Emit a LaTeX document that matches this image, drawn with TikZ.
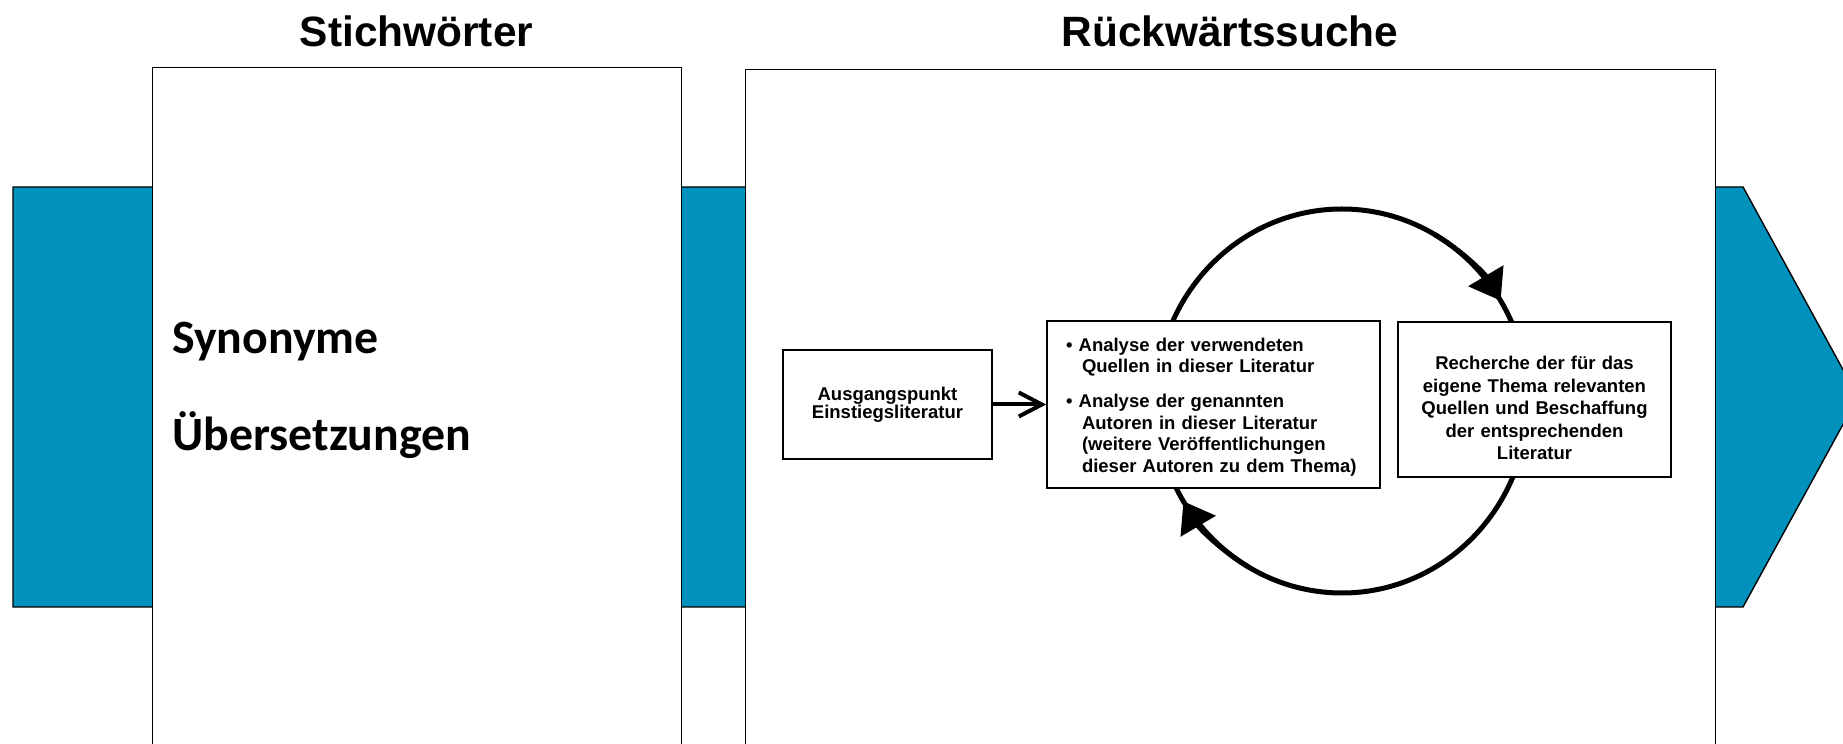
\documentclass[tikz,border=0pt]{standalone}
\usepackage{fontspec}
\setmainfont{Liberation Sans}
\newfontfamily\calib{Carlito}
\usetikzlibrary{arrows.meta}
\definecolor{bandblue}{RGB}{0,146,189}
\begin{document}
\begin{tikzpicture}[x=0.5pt,y=0.5pt,
  panel/.style={draw=black, line width=0.7pt, fill=white, inner sep=0pt},
  box/.style={draw=black, line width=0.85pt, fill=white, inner sep=0pt},
  boxfont/.style={font=\fontsize{9.25}{#1}\selectfont\bfseries},
  title/.style={font=\fontsize{21.2}{25}\selectfont\bfseries, inner sep=0pt},
  bigtext/.style={font=\calib\fontsize{23.9}{28}\selectfont\bfseries, inner sep=0pt},
  loop/.style={line width=2.5pt},
  looptip/.style={line width=2.5pt, -{Triangle[length=14.5pt,width=20pt]}},
]
\clip (0,0) rectangle (1843,744);
\fill[white] (0,0) rectangle (1843,744);
% blue band arrow
\draw[fill=bandblue, line width=0.7pt] (13,557) -- (1743,557) -- (1858,347) -- (1743,137) -- (13,137) -- cycle;
% panels
\node[panel, anchor=north west, minimum width=264.5pt, minimum height=360pt] (p1) at (152,677) {};
\node[panel, anchor=north west, minimum width=485pt, minimum height=360pt] (p2) at (745,675) {};
% titles
\node[title, anchor=base] (t1) at (416.5,697) {Stichwörter};
\node[title, anchor=base] (t2) at (1230,697) {Rückwärtssuche};
% left panel texts
\node[bigtext, anchor=base west] (syn) at (172,390) {Synonyme};
\node[bigtext, anchor=base west] (ueb) at (172,293) {Übersetzungen};
% cycle
\coordinate (cc) at (1342,343);
\draw[loop] (cc) ellipse [x radius=186, y radius=192];
\draw[looptip] ([shift={(60:186 and 192)}]cc) arc[start angle=60, end angle=31.5, x radius=186, y radius=192];
\draw[looptip] ([shift={(240:186 and 192)}]cc) arc[start angle=240, end angle=211.5, x radius=186, y radius=192];
% boxes
\node[box, boxfont=9.15pt, minimum width=104.5pt, minimum height=54.5pt, align=center] (start) at (887.5,339.5) {Ausgangspunkt\\Einstiegsliteratur};
\node[box, boxfont=10.75pt, minimum width=166.5pt, minimum height=83.5pt, inner xsep=9.5pt, text width=147.5pt, align=left] (mid) at (1213.5,339.5)
 {\rule{0pt}{9.2pt}•~Analyse der verwendeten\\\hspace*{8pt}Quellen in dieser Literatur\\[6.75pt]•~Analyse der genannten\\\hspace*{8pt}Autoren in dieser Literatur\\\hspace*{8pt}(weitere Veröffentlichungen\\\hspace*{8pt}dieser Autoren zu dem Thema)};
\node[box, boxfont=11.25pt, minimum width=136.5pt, minimum height=77.5pt, text width=130pt, align=center] (res) at (1534.5,344.5)
 {\rule{0pt}{15.25pt}Recherche der für das\\eigene Thema relevanten\\Quellen und Beschaffung\\der entsprechenden\\Literatur};
% arrow
\draw[line width=2pt, -{Straight Barb[length=11.5pt,width=12pt]}] (start) -- (mid);
\end{tikzpicture}
\end{document}
